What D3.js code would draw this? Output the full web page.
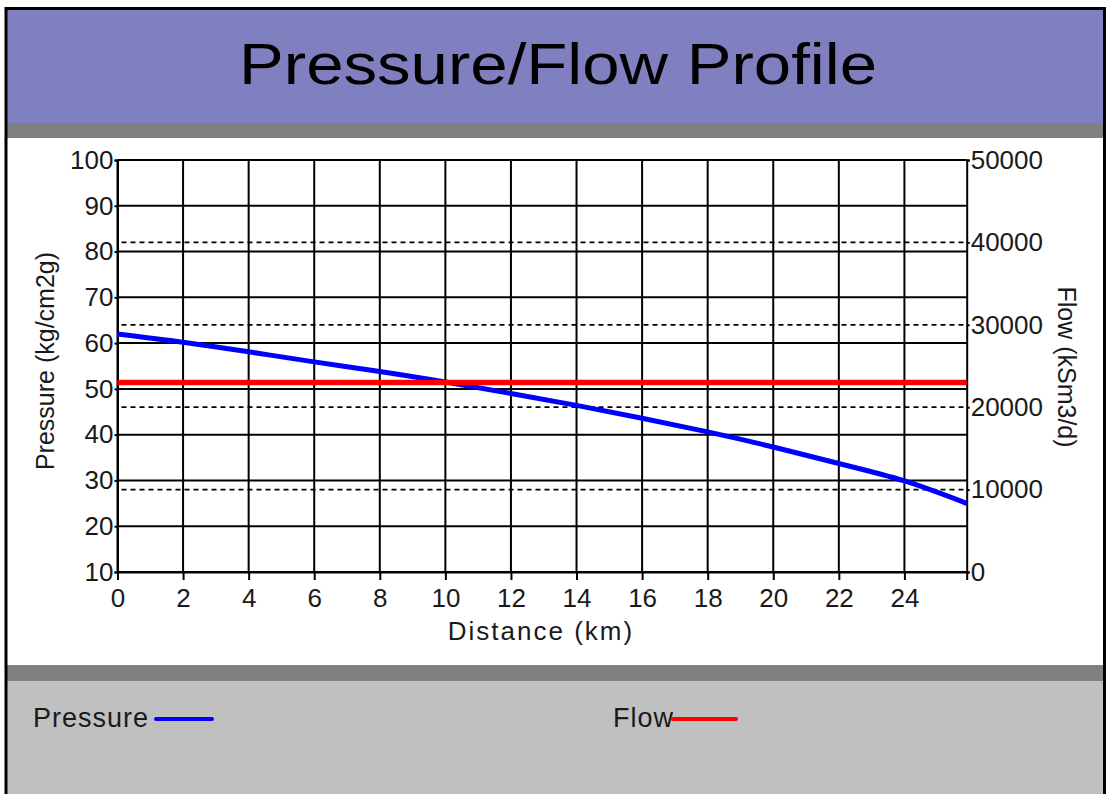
<!DOCTYPE html>
<html>
<head>
<meta charset="utf-8">
<script src="https://cdn.jsdelivr.net/npm/d3@7"></script>
<style>
  body { margin: 0; background: #fff; }
  text { font-family: "Liberation Sans", Arial, sans-serif; fill: #1a1a1a; }
</style>
</head>
<body>
<script>
// distance along the pipe (km) and pressure
const distance = [0, 2, 4, 6, 8, 10, 12, 14, 16, 18, 20, 22, 24, 25.9];
const pressure = [62, 60.2, 58.1, 55.9, 53.8, 51.5, 49, 46.4, 43.6, 40.6, 37.3, 33.7, 29.9, 25.0];
// flow is flat along the whole line
const flowDistance = [0, 25.9];
const flow = [23000, 23000];

const xTicks = [0, 2, 4, 6, 8, 10, 12, 14, 16, 18, 20, 22, 24];
const pressureTicks = [10, 20, 30, 40, 50, 60, 70, 80, 90, 100];
const flowTicks = [0, 10000, 20000, 30000, 40000, 50000];

const W = 1107, H = 794;
const plotL = 117.5, plotR = 966.7, plotT = 160, plotB = 572;

const svg = d3.select("body").append("svg")
    .attr("width", W)
    .attr("height", H);

// background bands
svg.append("rect").attr("x", 7).attr("y", 9).attr("width", 1097).attr("height", 114).attr("fill", "#8080c0");
svg.append("rect").attr("x", 7).attr("y", 123).attr("width", 1097).attr("height", 15).attr("fill", "#808080");
svg.append("rect").attr("x", 7).attr("y", 665).attr("width", 1097).attr("height", 16).attr("fill", "#808080");
svg.append("rect").attr("x", 7).attr("y", 681).attr("width", 1097).attr("height", 120).attr("fill", "#c0c0c0");
// outer frame
svg.append("rect").attr("x", 6).attr("y", 8.5).attr("width", 1098.5).attr("height", 800)
    .attr("fill", "none").attr("stroke", "#000").attr("stroke-width", 3);

svg.append("text")
    .attr("x", 558).attr("y", 84)
    .attr("text-anchor", "middle")
    .attr("font-size", 58)
    .attr("textLength", 638)
    .attr("lengthAdjust", "spacingAndGlyphs")
    .style("fill", "#000")
    .text("Pressure/Flow Profile");

const x = d3.scaleLinear().domain([0, 25.9]).range([plotL, plotR]);
const y = d3.scaleLinear().domain([10, 100]).range([plotB, plotT]);
const y2 = d3.scaleLinear().domain([0, 50000]).range([plotB, plotT]);

// grid
const grid = svg.append("g").attr("stroke", "#000").attr("stroke-width", 2);
grid.selectAll(".vg").data(xTicks).enter().append("line")
    .attr("x1", d => x(d)).attr("x2", d => x(d))
    .attr("y1", plotT).attr("y2", plotB);
grid.selectAll(".hg").data(pressureTicks).enter().append("line")
    .attr("x1", plotL).attr("x2", plotR)
    .attr("y1", d => y(d)).attr("y2", d => y(d));
grid.selectAll(".dg").data(flowTicks.filter(d => d > 0 && d < 50000)).enter().append("line")
    .attr("x1", plotL + 4).attr("x2", plotR)
    .attr("y1", d => y2(d)).attr("y2", d => y2(d))
    .attr("stroke-width", 1.7)
    .attr("stroke-dasharray", "5,4");

// axes
const axL = svg.append("g").attr("transform", `translate(${plotL},0)`)
    .call(d3.axisLeft(y).tickValues(pressureTicks).tickSize(3).tickPadding(1));
const axR = svg.append("g").attr("transform", `translate(${plotR},0)`)
    .call(d3.axisRight(y2).tickValues(flowTicks).tickSize(3).tickPadding(1).tickFormat(d3.format("d")));
const axB = svg.append("g").attr("transform", `translate(0,${plotB})`)
    .call(d3.axisBottom(x).tickValues(xTicks).tickSize(8).tickPadding(9));

[axL, axR, axB].forEach(a => {
    a.select(".domain").attr("stroke", "#000").attr("stroke-width", 2);
    a.selectAll(".tick line").attr("stroke", "#000").attr("stroke-width", 2);
    a.selectAll("text").attr("font-size", 26).style("font-family", "Liberation Sans, Arial, sans-serif").attr("fill", "#1a1a1a");
});

// axis titles
svg.append("text")
    .attr("transform", "translate(54,361) rotate(-90)")
    .attr("text-anchor", "middle")
    .attr("font-size", 25)
    .text("Pressure (kg/cm2g)");

svg.append("text")
    .attr("transform", "translate(1058,367) rotate(90)")
    .attr("text-anchor", "middle")
    .attr("font-size", 25)
    .text("Flow (kSm3/d)");

svg.append("text")
    .attr("x", 541).attr("y", 640)
    .attr("text-anchor", "middle")
    .attr("font-size", 26)
    .attr("letter-spacing", 2)
    .text("Distance (km)");

// series
const pLine = d3.line().x((d, i) => x(distance[i])).y(d => y(d)).curve(d3.curveNatural);
svg.append("path")
    .datum(pressure)
    .attr("d", pLine)
    .attr("fill", "none")
    .attr("stroke", "#0000ff")
    .attr("stroke-width", 5);

const fLine = d3.line().x((d, i) => x(flowDistance[i])).y(d => y2(d));
svg.append("path")
    .datum(flow)
    .attr("d", fLine)
    .attr("fill", "none")
    .attr("stroke", "#ff0000")
    .attr("stroke-width", 5.5);

// legend
const legend = [
    { name: "Pressure", color: "#0000ff", x: 33, x1: 156, x2: 212 },
    { name: "Flow", color: "#ff0000", x: 613, x1: 673, x2: 736 }
];
const lg = svg.selectAll(".lg").data(legend).enter().append("g");
lg.append("text")
    .attr("x", d => d.x).attr("y", 727)
    .attr("font-size", 27)
    .attr("letter-spacing", 1)
    .text(d => d.name);
lg.append("line")
    .attr("x1", d => d.x1).attr("x2", d => d.x2)
    .attr("y1", 719).attr("y2", 719)
    .attr("stroke", d => d.color)
    .attr("stroke-width", 4)
    .attr("stroke-linecap", "round");
</script>
</body>
</html>
